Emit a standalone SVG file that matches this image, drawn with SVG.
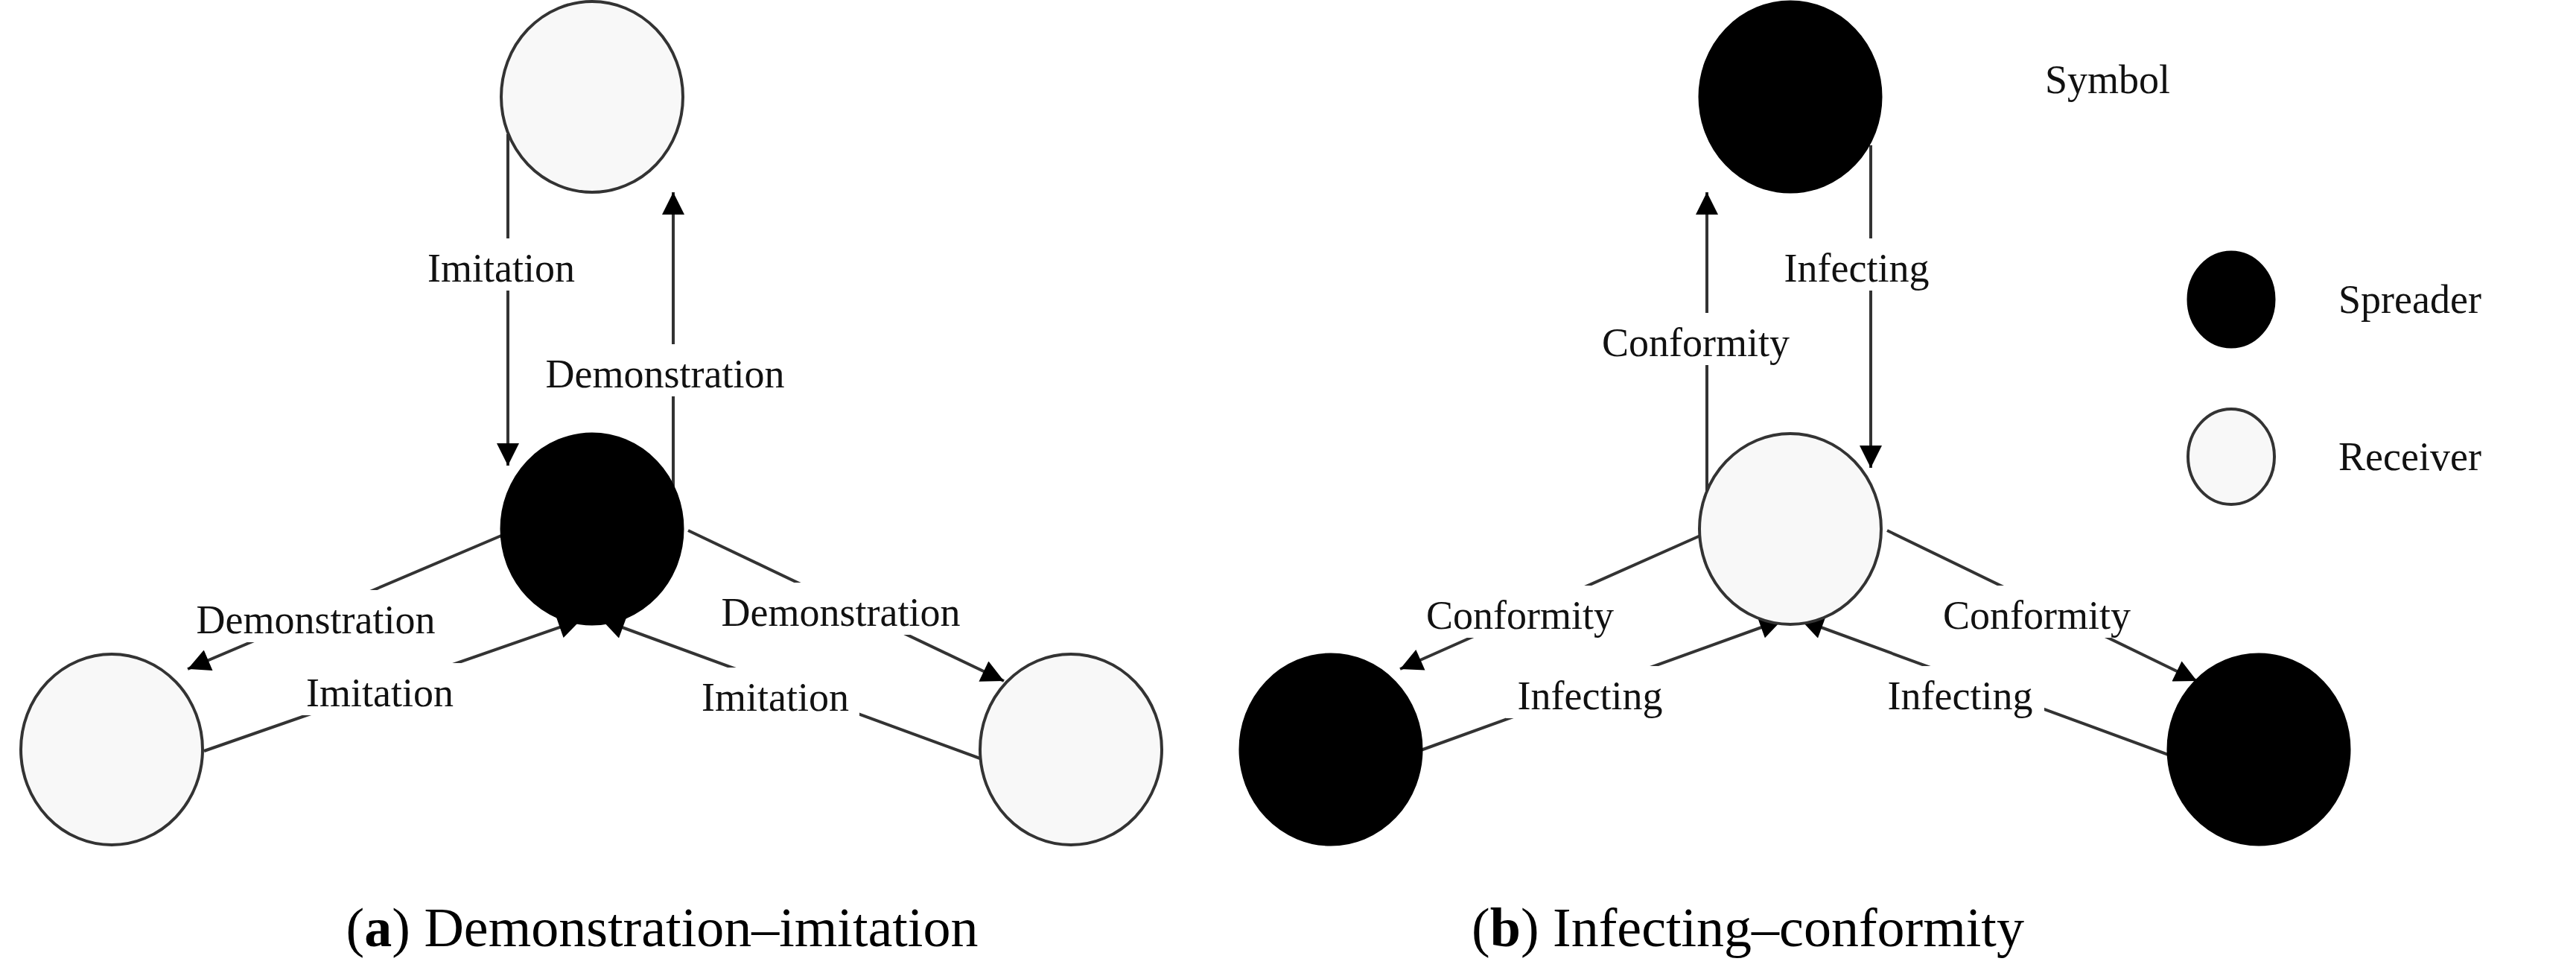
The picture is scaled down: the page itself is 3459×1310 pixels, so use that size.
<svg xmlns="http://www.w3.org/2000/svg" width="3459" height="1310" viewBox="0 0 3459 1310">
<style>
.w{fill:#f8f8f8;stroke:#333;stroke-width:4}
.b{fill:#000;stroke:#000;stroke-width:3}
.c{stroke:#333;stroke-width:4;fill:none;marker-end:url(#ah)}
.bg{fill:#fff}
.t{font-family:"Liberation Serif",serif;font-size:54px;fill:#111;text-anchor:middle}
.l{font-family:"Liberation Serif",serif;font-size:54px;fill:#111}
.cap{font-family:"Liberation Serif",serif;font-size:74px;fill:#000;text-anchor:middle}
</style>
<defs>
<marker id="ah" viewBox="0 0 10 10" refX="10" refY="5" markerUnits="userSpaceOnUse" markerWidth="44" markerHeight="30" orient="auto">
<path d="M0,0 L10,5 L0,10 z" fill="#000"/>
</marker>
</defs>
<rect width="3459" height="1310" fill="#fff"/>
<g id="connectors">
<line class="c" x1="682" y1="180" x2="682" y2="625"/>
<line class="c" x1="904" y1="655" x2="904" y2="258"/>
<line class="c" x1="673" y1="719" x2="252" y2="898"/>
<line class="c" x1="274" y1="1008" x2="780" y2="832"/>
<line class="c" x1="924" y1="712" x2="1348" y2="914"/>
<line class="c" x1="1316" y1="1018" x2="808" y2="832"/>
<line class="c" x1="2292" y1="660" x2="2292" y2="258"/>
<line class="c" x1="2512" y1="195" x2="2512" y2="628"/>
<line class="c" x1="2283" y1="719" x2="1880" y2="898"/>
<line class="c" x1="1905" y1="1008" x2="2393" y2="832"/>
<line class="c" x1="2534" y1="712" x2="2950" y2="914"/>
<line class="c" x1="2925" y1="1018" x2="2418" y2="832"/>
<g id="labels">
<rect class="bg" x="560" y="320" width="226" height="70"/><text class="t" x="673" y="378">Imitation</text>
<rect class="bg" x="720" y="462" width="346" height="70"/><text class="t" x="893" y="520">Demonstration</text>
<rect class="bg" x="251" y="792" width="346" height="70"/><text class="t" x="424" y="850">Demonstration</text>
<rect class="bg" x="397" y="890" width="226" height="70"/><text class="t" x="510" y="948">Imitation</text>
<rect class="bg" x="956" y="782" width="346" height="70"/><text class="t" x="1129" y="840">Demonstration</text>
<rect class="bg" x="928" y="896" width="226" height="70"/><text class="t" x="1041" y="954">Imitation</text>
<rect class="bg" x="2380" y="320" width="226" height="70"/><text class="t" x="2493" y="378">Infecting</text>
<rect class="bg" x="2142" y="420" width="270" height="70"/><text class="t" x="2277" y="478">Conformity</text>
<rect class="bg" x="1906" y="786" width="270" height="70"/><text class="t" x="2041" y="844">Conformity</text>
<rect class="bg" x="2022" y="894" width="226" height="70"/><text class="t" x="2135" y="952">Infecting</text>
<rect class="bg" x="2600" y="786" width="270" height="70"/><text class="t" x="2735" y="844">Conformity</text>
<rect class="bg" x="2519" y="894" width="226" height="70"/><text class="t" x="2632" y="952">Infecting</text>
</g>
</g>
<g id="a-top"><ellipse class="w" cx="795" cy="130" rx="122" ry="128"/></g>
<g id="a-center"><ellipse class="b" cx="795" cy="710" rx="122" ry="128"/></g>
<g id="a-left"><ellipse class="w" cx="150" cy="1006" rx="122" ry="128"/></g>
<g id="a-right"><ellipse class="w" cx="1438" cy="1006" rx="122" ry="128"/></g>
<g id="b-top"><ellipse class="b" cx="2404" cy="130" rx="122" ry="128"/></g>
<g id="b-center"><ellipse class="w" cx="2404" cy="710" rx="122" ry="128"/></g>
<g id="b-left"><ellipse class="b" cx="1787" cy="1006" rx="122" ry="128"/></g>
<g id="b-right"><ellipse class="b" cx="3033" cy="1006" rx="122" ry="128"/></g>
<g id="legend">
<text class="l" x="2830" y="125" text-anchor="middle">Symbol</text>
<ellipse class="b" cx="2996" cy="402" rx="58" ry="64"/>
<text class="l" x="3140" y="420">Spreader</text>
<ellipse class="w" cx="2996" cy="613" rx="58" ry="64"/>
<text class="l" x="3140" y="631">Receiver</text>
</g>
<g id="captions">
<text class="cap" x="889" y="1270">(<tspan font-weight="bold">a</tspan>) Demonstration–imitation</text>
<text class="cap" x="2347" y="1270">(<tspan font-weight="bold">b</tspan>) Infecting–conformity</text>
</g>
</svg>
